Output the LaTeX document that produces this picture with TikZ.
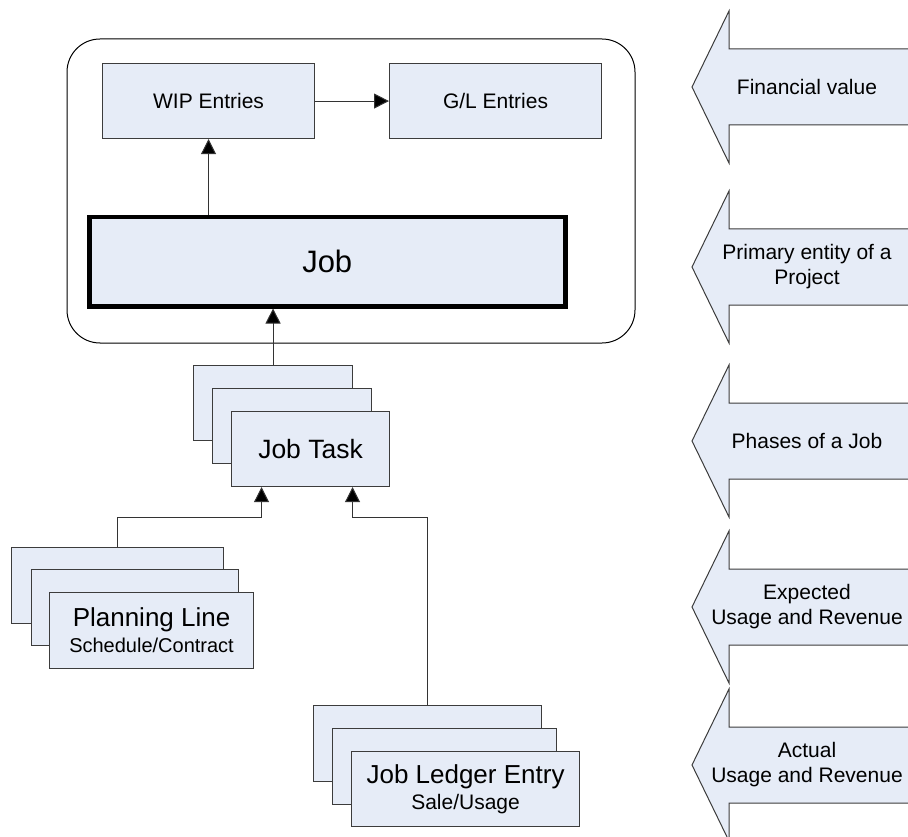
\documentclass[tikz,border=0pt]{standalone}
\usepackage{fontspec}
\setmainfont{Liberation Sans}
\usetikzlibrary{arrows.meta,calc}
\definecolor{boxfill}{HTML}{E6ECF7}
\definecolor{edge}{HTML}{3C3C3C}

\newcommand\fs[2][0]{\fontsize{#2}{\dimexpr#2pt+#1pt\relax}\selectfont}

\begin{document}
\begin{tikzpicture}[x=1pt,y=-1pt,
  card/.style={draw=edge,fill=boxfill,line width=1.1pt,inner sep=0pt,
               anchor=north west,align=center},
  link/.style={draw=black!80,line width=1pt,
               -{Triangle[length=15pt,width=15pt,fill=black]}},
  sidearrow/.style={draw=edge,fill=boxfill,line width=1pt},
  sidetext/.style={align=center,font=\fs[4]{21},inner sep=0pt}]

\useasboundingbox (0,0) rectangle (908,837);

% container around the job level
\draw[line width=1pt,rounded corners=33pt] (67,39) rectangle (635,343);

% ledger boxes
\node[card,minimum width=212pt,minimum height=75pt,font=\fs{21}] (wip) at (102,63) {WIP Entries};
\node[card,minimum width=212pt,minimum height=75pt,font=\fs{21}] (gl) at (389,63) {G/L Entries};

% the job
\node[card,draw=black,line width=4.5pt,minimum width=476pt,minimum height=89pt,font=\fs{31}] (job) at (87,215) {Job};

% job task stack
\node[card,minimum width=159pt,minimum height=75pt] (jt1) at (193,365) {};
\node[card,minimum width=159pt,minimum height=75pt] (jt2) at (212,388) {};
\node[card,minimum width=158pt,minimum height=75pt,font=\fs{26.5}] (jt3) at (231,411) {Job Task};

% planning line stack
\node[card,minimum width=212pt,minimum height=76pt] (pl1) at (11,547) {};
\node[card,minimum width=207pt,minimum height=76pt] (pl2) at (31,569) {};
\node[card,minimum width=204pt,minimum height=76pt] (pl3) at (49,592)
  {\fs{26}Planning Line\\[5pt]\fs{20}Schedule/Contract};

% job ledger entry stack
\node[card,minimum width=228pt,minimum height=76pt] (le1) at (313,705) {};
\node[card,minimum width=224pt,minimum height=76pt] (le2) at (332,728) {};
\node[card,minimum width=228pt,minimum height=75pt] (le3) at (351,751)
  {\fs{26}Job Ledger Entry\\[4pt]\fs{21}Sale/Usage};

% connectors
\draw[link] (wip.east) -- (gl.west);
\draw[link] (job.north -| wip.south) -- (wip.south);
\draw[link] (jt1.north) -- (jt1.north |- job.south);
\coordinate (inL) at ([xshift=-49pt]jt3.south);
\coordinate (inR) at ([xshift=42pt]jt3.south);
\draw[link] (pl1.north) |- ([yshift=-30pt]inL) -- (inL);
\draw[link] (le1.north) |- ([yshift=-30pt]inR) -- (inR);

% level captions as left-pointing block arrows
\begin{scope}
\clip (0,0) rectangle (908,837);
\foreach \c/\name/\txt in {87/fin/Financial value,
                           267/prim/Primary entity of a\\Project,
                           441/phase/Phases of a Job,
                           607/exp/Expected\\Usage and Revenue,
                           765/act/Actual\\Usage and Revenue}{
  \draw[sidearrow] (912,\c-38) -- (729,\c-38) -- (729,\c-76) -- (692,\c)
     -- (729,\c+76) -- (729,\c+38) -- (912,\c+38);
  \node[sidetext] (\name) at (807,\c) {\txt};
}
\end{scope}
\end{tikzpicture}
\end{document}
